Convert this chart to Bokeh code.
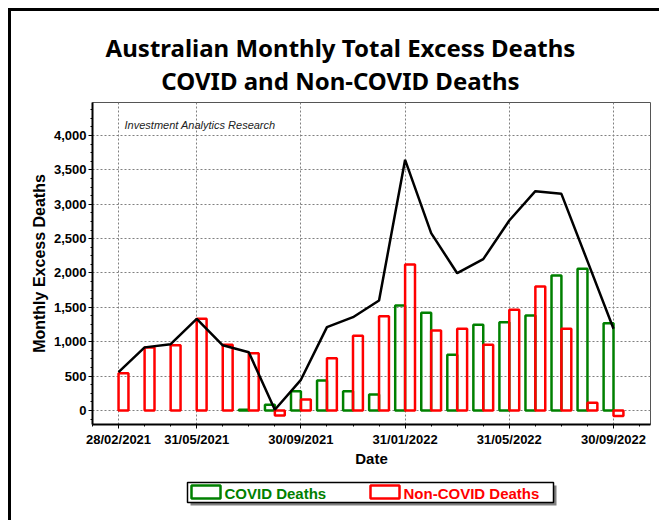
from bokeh.plotting import figure
from bokeh.models import (Range1d, FixedTicker, SingleIntervalTicker, Label,
                          NumeralTickFormatter, ColumnDataSource)
from bokeh.transform import dodge
from bokeh.layouts import column
from bokeh.embed import file_html
from bokeh.resources import INLINE
from bokeh.core.properties import value

NA = float("nan")

# ---- data (monthly, Feb 2021 .. Sep 2022) ----
months = ["2021-02", "2021-03", "2021-04", "2021-05", "2021-06", "2021-07",
          "2021-08", "2021-09", "2021-10", "2021-11", "2021-12", "2022-01",
          "2022-02", "2022-03", "2022-04", "2022-05", "2022-06", "2022-07",
          "2022-08", "2022-09"]
covid_deaths = [NA, NA, NA, NA, NA, 10, 82, 281, 436, 281, 233, 1527,
                1420, 810, 1246, 1285, 1382, 1963, 2060, 1270]
non_covid_deaths = [543, 916, 950, 1333, 955, 834, -73, 160, 761, 1086, 1372, 2123,
                    1163, 1188, 955, 1464, 1803, 1188, 112, -80]
total_excess = [557, 918, 965, 1333, 948, 848, 10, 446, 1212, 1357, 1600, 3646,
                2579, 1997, 2201, 2763, 3190, 3151, 2172, 1188]
tick_month_index = [0, 3, 7, 11, 15, 19]
tick_labels = ["28/02/2021", "31/05/2021", "30/09/2021", "31/01/2022",
               "31/05/2022", "30/09/2022"]
series_names = ["COVID Deaths", "Non-COVID Deaths"]
title_lines = ["Australian Monthly Total Excess Deaths", "COVID and Non-COVID Deaths"]
watermark = "Investment Analytics Research"

GREEN = "#008000"
RED = "#FF0000"

# page geometry (pixels): frame spans x 92..650
FL, FR = 92, 650

idx = list(range(len(months)))
src = ColumnDataSource(dict(x=idx, covid=covid_deaths, noncovid=non_covid_deaths,
                            total=total_excess))

# ---- header strip with the two title lines (page pixel coordinates) ----
HEAD_TOP, HEAD_BOT = 11, 100
hf = figure(width=648, height=HEAD_BOT - HEAD_TOP,
            x_range=Range1d(FL, FR), y_range=Range1d(HEAD_BOT, HEAD_TOP),
            output_backend="svg", toolbar_location=None, min_border=0,
            x_axis_location=None, y_axis_location=None, outline_line_color=None,
            background_fill_color="white", border_fill_color="white")
hf.xgrid.visible = False
hf.ygrid.visible = False
hf.text(x=[340, 340], y=[47, 80], text=title_lines, text_color="black",
        text_font=value("Noto Sans"), text_font_style="bold", text_font_size="24px",
        text_align="center", text_baseline="middle")

# ---- main chart ----
p = figure(width=648, height=473 - HEAD_BOT,
           x_range=Range1d(-1, 20.42), y_range=Range1d(-204, 4480),
           output_backend="svg", toolbar_location=None,
           min_border_left=FL - 11, min_border_right=659 - FR,
           min_border_top=102 - HEAD_BOT, min_border_bottom=49,
           background_fill_color="white", border_fill_color="white",
           outline_line_color="#555555", outline_line_width=1)

p.xaxis.ticker = FixedTicker(ticks=tick_month_index, minor_ticks=list(range(-1, 21)))
p.xaxis.major_label_overrides = {k: v for k, v in zip(tick_month_index, tick_labels)}
p.yaxis.ticker = SingleIntervalTicker(interval=500, num_minor_ticks=4)
p.yaxis.formatter = NumeralTickFormatter(format="0,0")
p.xaxis.axis_label = "Date"
p.yaxis.axis_label = "Monthly Excess Deaths"
for ax in (p.xaxis[0], p.yaxis[0]):
    ax.axis_line_color = "black"
    ax.axis_line_width = 2
    ax.major_tick_line_color = "black"
    ax.minor_tick_line_color = "black"
    ax.major_tick_in = 0
    ax.minor_tick_in = 0
    ax.major_tick_out = 4
    ax.minor_tick_out = 2
    ax.major_label_text_font = "Liberation Sans"
    ax.major_label_text_font_style = "bold"
    ax.major_label_text_font_size = "13px"
    ax.major_label_text_color = "black"
    ax.axis_label_text_font = "Liberation Sans"
    ax.axis_label_text_font_style = "bold"
    ax.axis_label_text_color = "black"
p.xaxis.axis_label_text_font_size = "15px"
p.yaxis.axis_label_text_font_size = "16px"
p.xaxis.major_label_standoff = 3
p.xaxis.axis_label_standoff = 0
p.yaxis.major_label_standoff = 2
p.yaxis.axis_label_standoff = 3

p.xgrid.ticker = FixedTicker(ticks=tick_month_index)
for g in (p.xgrid[0], p.ygrid[0]):
    g.grid_line_color = "#808080"
    g.grid_line_dash = "2 2"
    g.grid_line_width = 1

p.vbar(x=dodge("x", -0.19, range=p.x_range), top="covid", bottom=0, width=0.38,
       source=src, fill_color=None, line_color=GREEN, line_width=2.5)
p.vbar(x=dodge("x", 0.19, range=p.x_range), top="noncovid", bottom=0, width=0.38,
       source=src, fill_color=None, line_color=RED, line_width=2.5)
p.line("x", "total", source=src, line_color="black", line_width=2.5)

p.add_layout(Label(x=0.23, y=4146, text=watermark, text_font="Liberation Sans",
                   text_font_style="italic", text_font_size="11px",
                   text_color="#222222", text_baseline="middle", text_align="left"))

# ---- legend strip (page pixel coordinates) ----
LEG_TOP, LEG_BOT = 473, 520
lf = figure(width=648, height=LEG_BOT - LEG_TOP,
            x_range=Range1d(FL, FR), y_range=Range1d(LEG_BOT, LEG_TOP),
            output_backend="svg", toolbar_location=None, min_border=0,
            x_axis_location=None, y_axis_location=None, outline_line_color=None,
            background_fill_color="white", border_fill_color="white")
lf.xgrid.visible = False
lf.ygrid.visible = False
lf.quad(left=[190], right=[556], top=[485], bottom=[505], fill_color="#808080",
        line_color=None)
lf.quad(left=[187], right=[553], top=[482], bottom=[502], fill_color="white",
        line_color="black", line_width=1.5)
lf.quad(left=[191, 370], right=[220, 399], top=[485, 485], bottom=[498, 498],
        fill_color=None, line_color=[GREEN, RED], line_width=2.5)
lf.text(x=[224, 403], y=[492.5, 492.5], text=series_names, text_color=[GREEN, RED],
        text_font=value("Liberation Sans"), text_font_style="bold",
        text_font_size="15px", text_baseline="middle", text_align="left")

layout = column(hf, p, lf, spacing=0,
                styles={"margin-left": "8px", "margin-top": "8px",
                        "border-left": "3px solid black", "border-top": "3px solid black"})

open("out.html", "w").write(file_html(layout, INLINE))
